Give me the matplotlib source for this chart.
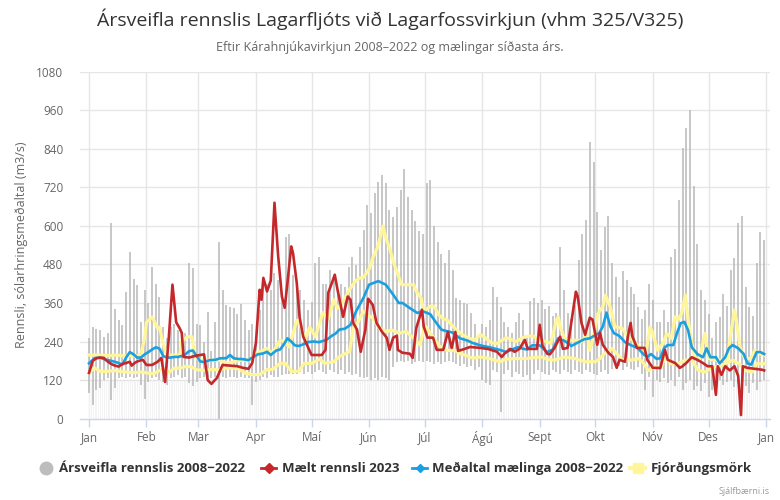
import matplotlib
matplotlib.use("Agg")
import matplotlib.pyplot as plt
from matplotlib.lines import Line2D
import matplotlib.font_manager as fm

# ---------------- data ----------------
month_labels = ['Jan', 'Feb', 'Mar', 'Apr', 'Maí', 'Jún', 'Júl', 'Ágú', 'Sept', 'Okt', 'Nóv', 'Des', 'Jan']
month_days = [0, 31, 59, 90, 120, 151, 181, 212, 243, 273, 304, 334, 365]
y_ticks = [0, 120, 240, 360, 480, 600, 720, 840, 960, 1080]

range_days = list(range(0, 365, 2))
range_max = [250, 285, 280, 275, 255, 265, 608, 340, 307, 290,
             394, 518, 436, 415, 300, 400, 360, 472, 420, 380,
             286, 250, 285, 296, 275, 270, 265, 483, 470, 296,
             290, 240, 331, 210, 300, 550, 400, 353, 348, 343,
             327, 358, 307, 275, 296, 255, 337, 420, 420, 399,
             452, 431, 368, 565, 576, 447, 426, 400, 368, 337,
             362, 483, 502, 420, 420, 462, 446, 400, 420, 410,
             472, 503, 478, 534, 586, 664, 640, 701, 737, 757,
             735, 650, 627, 659, 711, 777, 690, 648, 615, 585,
             575, 735, 742, 600, 549, 513, 483, 524, 462, 375,
             370, 360, 358, 330, 296, 254, 296, 286, 306, 410,
             378, 347, 300, 285, 265, 300, 330, 306, 254, 365,
             375, 360, 370, 340, 350, 320, 330, 534, 400, 330,
             310, 353, 493, 576, 617, 860, 800, 643, 524, 596,
             630, 483, 440, 379, 460, 430, 410, 389, 348, 310,
             338, 420, 368, 300, 300, 337, 300, 503, 529, 680,
             843, 904, 960, 723, 545, 400, 368, 327, 250, 300,
             317, 389, 350, 462, 500, 608, 630, 410, 348, 320,
             483, 580, 555]
range_min = [80, 42, 88, 95, 120, 125, 57, 95, 125, 130,
             125, 130, 125, 130, 104, 60, 115, 125, 130, 120,
             115, 104, 125, 130, 135, 125, 130, 110, 100, 115,
             125, 130, 130, 125, 130, 0, 130, 125, 130, 130,
             125, 130, 125, 125, 42, 115, 120, 130, 125, 135,
             130, 130, 135, 140, 140, 140, 140, 145, 140, 145,
             140, 145, 150, 145, 140, 150, 145, 140, 150, 140,
             145, 135, 140, 130, 125, 130, 120, 125, 120, 130,
             125, 120, 160, 175, 180, 175, 180, 170, 175, 180,
             175, 180, 175, 170, 175, 170, 175, 180, 175, 170,
             165, 170, 160, 165, 150, 160, 120, 110, 105, 150,
             145, 20, 140, 150, 130, 145, 140, 130, 135, 120,
             140, 150, 145, 140, 135, 150, 145, 140, 150, 145,
             140, 150, 145, 140, 150, 145, 140, 135, 145, 150,
             140, 155, 160, 165, 150, 160, 155, 150, 160, 140,
             88, 130, 67, 120, 115, 125, 110, 120, 100, 130,
             88, 110, 120, 90, 100, 85, 110, 67, 90, 115,
             120, 105, 115, 120, 98, 110, 120, 100, 80, 110,
             90, 115, 120]
low_band_top = 120

red_days = [0, 2, 4, 6, 8, 10, 12, 14, 16, 18, 20, 22, 23, 25, 27, 29, 31, 34, 37, 39,
            41, 43, 45, 47, 49, 50, 51, 54, 57, 60, 62, 64, 66, 69, 72, 76, 80, 83, 86, 88,
            90, 92, 93, 94, 96, 98, 100, 102, 104, 105.5, 107, 109, 110, 112, 113.5, 115.5, 118, 120, 123.5, 125.5,
            127.5, 129, 131, 132.5, 134, 137, 139.5, 141, 142.5, 144.5, 146.5, 149, 150.5, 153, 155, 158, 160.5, 162, 164, 166,
            166.5, 169, 173, 174.5, 176.5, 179.5, 180.5, 182.5, 185.5, 187.5, 191, 193.5, 195.5, 197.5, 199, 201, 205.5, 211, 215, 220,
            222.5, 224, 227, 229.5, 232, 235, 236.5, 241.5, 243, 244.5, 247, 248.5, 251, 254, 255.5, 258, 260, 262.5, 263.5, 265.5,
            267.5, 270, 271.5, 274, 275.5, 277, 280, 282.5, 284.5, 286, 289, 290.5, 292, 293, 295.5, 299.5, 301, 304, 306.5, 308,
            310.5, 312, 316, 318.5, 320, 322, 325, 328, 331, 333.5, 336, 338, 339, 341, 343, 345.5, 348, 350, 351.5, 352.5,
            355, 359, 363, 364]
red_vals = [142, 180, 188, 190, 189, 178, 170, 165, 162, 170, 173, 177, 165, 175, 180, 183, 167, 167, 177, 189,
            114, 250, 417, 300, 280, 267, 192, 190, 195, 198, 200, 120, 108, 127, 167, 165, 163, 158, 155, 173,
            236, 401, 370, 438, 396, 430, 672, 505, 380, 345, 423, 536, 515, 423, 317, 255, 223, 198, 198, 198,
            214, 392, 423, 448, 401, 317, 380, 370, 298, 277, 208, 277, 373, 354, 298, 270, 252, 214, 252, 258,
            214, 205, 202, 189, 283, 339, 286, 252, 252, 214, 214, 270, 220, 270, 211, 214, 223, 220, 217, 208,
            192, 202, 217, 208, 217, 245, 217, 217, 292, 227, 202, 200, 220, 255, 217, 220, 298, 395, 380, 298,
            261, 314, 308, 230, 267, 230, 205, 192, 158, 183, 177, 255, 298, 255, 220, 220, 183, 158, 158, 157,
            214, 183, 173, 158, 163, 173, 191, 183, 173, 163, 163, 74, 163, 136, 163, 150, 163, 133, 11, 163,
            158, 155, 152, 150]

blue_days = [0, 3, 6, 9, 12, 15, 18, 20, 22, 24, 26, 28, 30, 32, 34, 36, 38, 40, 42, 44,
             46, 48, 50, 52, 54, 56, 58, 60, 62, 65, 68, 71, 74, 76, 78, 80, 83, 86, 88, 91,
             94, 96, 98, 101, 103, 105, 107, 109, 111, 113, 115, 118, 121, 124, 128, 131, 133, 135, 138, 141,
             144, 148, 151, 156, 160, 164, 167, 169, 173, 177, 180, 184, 187, 190, 193, 196, 200, 204, 207, 211,
             216, 222, 225, 228, 231, 234, 236, 239, 243, 247, 250, 253, 255, 257, 260, 262, 264, 267, 270, 273,
             275, 277, 279, 281, 283, 286, 289, 292, 296, 299, 301, 303, 306, 308, 310, 312, 315, 317, 319, 321,
             323, 325, 328, 331, 333, 335, 338, 340, 343, 345, 347, 350, 353, 355, 357, 360, 362, 364]
blue_vals = [172, 188, 190, 183, 180, 175, 168, 190, 207, 200, 190, 190, 200, 207, 215, 222, 218, 195, 190, 190,
             192, 192, 195, 200, 210, 212, 195, 178, 176, 182, 183, 188, 188, 198, 188, 186, 185, 182, 190, 200,
             203, 208, 198, 212, 215, 230, 250, 240, 228, 226, 230, 238, 240, 238, 245, 258, 265, 277, 280, 292,
             334, 376, 417, 428, 417, 386, 360, 360, 344, 329, 334, 325, 300, 277, 272, 268, 250, 243, 235, 228,
             222, 213, 207, 215, 222, 218, 215, 228, 228, 207, 215, 250, 245, 240, 226, 232, 238, 247, 250, 260,
             266, 286, 330, 288, 266, 257, 238, 229, 219, 200, 192, 201, 186, 188, 219, 229, 229, 266, 297, 301,
             275, 222, 201, 191, 219, 191, 191, 172, 191, 219, 229, 219, 201, 172, 168, 207, 207, 201]

q_upper_days = [0, 6, 10, 15, 19, 23, 26, 28, 30, 31, 34, 35.5, 37, 38, 40, 42, 46, 49, 50, 53,
                55.5, 57, 60, 65, 70, 75, 81, 87, 89.5, 93, 96, 99, 103, 105, 108, 112, 114, 116.5, 119, 122,
                124, 126, 129, 132, 134, 136, 139, 141, 144, 146, 148, 151.5, 153, 155.5, 157.5, 158.5, 160, 162, 164, 166.5,
                168.5, 173, 175, 176.5, 179, 180.5, 184, 186, 188.5, 191, 193, 195.5, 198, 201.5, 205, 208, 211, 214, 217, 220,
                225, 230, 235, 239, 243, 247, 249, 252, 253, 254, 256, 258, 263.5, 265.5, 268.5, 270, 271.5, 274.5, 277, 278.5,
                281, 283.5, 287.5, 290, 293, 296, 298, 300, 302.5, 304, 306.5, 309.5, 311.5, 314, 316, 317.5, 319.5, 321.5, 322, 323,
                325, 326.5, 329, 332, 334, 337, 341, 344, 345.5, 348, 349, 351, 353.5, 357, 359, 361, 364]
q_upper_vals = [198, 198, 196, 198, 195, 196, 195, 200, 250, 300, 316, 300, 280, 285, 233, 198, 198, 198, 240, 255,
                255, 192, 182, 182, 182, 172, 182, 182, 203, 210, 218, 203, 244, 240, 223, 306, 290, 244, 285, 255,
                290, 330, 310, 370, 344, 355, 386, 407, 430, 438, 440, 470, 501, 532, 574, 600, 563, 532, 490, 449,
                417, 417, 417, 396, 376, 334, 350, 350, 324, 310, 308, 292, 277, 261, 250, 244, 262, 250, 236, 234,
                252, 240, 255, 258, 244, 239, 234, 307, 317, 286, 255, 244, 244, 239, 265, 213, 244, 328, 348, 384,
                348, 286, 281, 260, 244, 228, 213, 192, 286, 265, 213, 234, 265, 250, 317, 307, 327, 384, 358, 307,
                234, 192, 182, 265, 187, 182, 182, 182, 244, 338, 307, 223, 187, 187, 213, 203, 198]

q_lower_days = [0, 3, 6, 10, 14, 17, 20, 24, 29, 31, 35, 38, 41, 43.5, 46, 49, 52, 55, 58, 62,
                66, 70, 74, 78, 81, 84, 88, 92, 96, 99, 103, 106, 109, 113, 116, 120, 124.5, 127, 132, 135,
                140.5, 142.5, 145, 148, 151, 153, 156.5, 160.5, 163, 167.5, 171, 175, 178.5, 181, 183, 186, 189, 193, 197, 200,
                204, 207, 211, 216, 221.5, 225, 230, 236, 240, 244, 247, 251, 256.5, 262, 267.5, 273, 275.5, 278, 282, 284.5,
                287.5, 292.5, 296, 298.5, 301.5, 304, 305.5, 308.5, 310.5, 314, 317.5, 321.5, 325, 328.5, 332.5, 336, 339.5, 343, 347, 350.5,
                354, 357.5, 360, 364]
q_lower_vals = [142, 158, 147, 147, 150, 147, 145, 143, 145, 142, 140, 150, 155, 145, 157, 157, 162, 162, 152, 150,
                153, 152, 157, 157, 155, 142, 137, 137, 153, 153, 172, 172, 147, 147, 172, 172, 185, 172, 177, 193,
                209, 282, 300, 334, 320, 313, 282, 271, 276, 266, 271, 250, 229, 290, 275, 250, 225, 212, 213, 203,
                195, 188, 192, 187, 177, 185, 187, 187, 190, 192, 185, 182, 192, 187, 177, 177, 187, 203, 218, 203,
                182, 182, 187, 177, 150, 156, 161, 161, 192, 171, 171, 182, 182, 150, 145, 161, 161, 171, 182, 171,
                150, 145, 171, 171]

legend_labels = ['Ársveifla rennslis 2008−2022', 'Mælt rennsli 2023',
                 'Meðaltal mælinga 2008−2022', 'Fjórðungsmörk']

# ---------------- style ----------------
avail = {f.name for f in fm.fontManager.ttflist}
base_font = 'Liberation Sans Narrow' if 'Liberation Sans Narrow' in avail else 'Open Sans'
plt.rcParams['font.family'] = [base_font, 'DejaVu Sans']

c_range = '#b8b8b8'
c_red = '#c4282b'
c_blue = '#1a9fe0'
c_yellow = '#fff59a'
c_grid = '#e6e6e6'
c_axis = '#ccd6eb'
c_label = '#666666'

W, H = 780, 500
fig = plt.figure(figsize=(W / 100, H / 100), dpi=100)
px2x = 1 / W
px2y = 1 / H
ax_left, ax_right, ax_top, ax_bottom = 80, 770, 71.7, 418.6
ax = fig.add_axes([ax_left * px2x, 1 - ax_bottom * px2y,
                   (ax_right - ax_left) * px2x, (ax_bottom - ax_top) * px2y])

day_scale = (766 - 89) / 365.0
ax.set_xlim((ax_left - 89) / day_scale, (ax_right - 89) / day_scale)
ax.set_ylim(0, 1080)

# grid
for yv in y_ticks[1:]:
    ax.axhline(yv, color=c_grid, lw=1, zorder=0)
for d in month_days:
    ax.axvline(d, color=c_grid, lw=1, zorder=0)

# faint bars below the band line
ax.vlines(list(range(0, 365)), 0, low_band_top, color='#f3f3f3', lw=0.7, zorder=1)
ax.axhline(low_band_top, color='#dcdcdc', lw=0.8, ls=(0, (1, 2)), zorder=1)

# range bars
ax.vlines(range_days, range_min, range_max, color=c_range, lw=1.1, zorder=2)

# quartile lines
ax.plot(q_upper_days, q_upper_vals, color=c_yellow, lw=2.3, zorder=3, solid_joinstyle='round')
ax.plot(q_lower_days, q_lower_vals, color=c_yellow, lw=2.3, zorder=3, solid_joinstyle='round')
# mean
ax.plot(blue_days, blue_vals, color=c_blue, lw=1.9, zorder=4, solid_joinstyle='round')
# measured
ax.plot(red_days, red_vals, color=c_red, lw=1.9, zorder=5, solid_joinstyle='round')

# axes styling
for s in ['top', 'right', 'left']:
    ax.spines[s].set_visible(False)
ax.spines['bottom'].set_color(c_axis)
ax.spines['bottom'].set_linewidth(1)
ax.set_yticks(y_ticks)
ax.set_yticklabels([str(v) for v in y_ticks])
ax.tick_params(axis='y', length=0, pad=12, labelsize=8.5, labelcolor=c_label)
ax.set_xticks(month_days)
ax.set_xticklabels(month_labels)
ax.tick_params(axis='x', length=6, width=1, color=c_axis, pad=3, labelsize=8.5, labelcolor=c_label)
ax.set_facecolor('white')

fig.text(22 * px2x, 1 - 245 * px2y, 'Rennsli, sólarhringsmeðaltal (m3/s)', rotation=90,
         ha='center', va='center', fontsize=9, color=c_label)

fig.text(390 * px2x, 1 - 19 * px2y, 'Ársveifla rennslis Lagarfljóts við Lagarfossvirkjun (vhm 325/V325)',
         ha='center', va='center', fontsize=14, color='#333333')
fig.text(390 * px2x, 1 - 47 * px2y, 'Eftir Kárahnjúkavirkjun 2008–2022 og mælingar síðasta árs.',
         ha='center', va='center', fontsize=9, color=c_label)

# legend (manual)
ly = 1 - 468 * px2y
fig.add_artist(Line2D([46 * px2x], [ly], marker='o', ms=9, color='#bdbdbd', ls='none',
                      transform=fig.transFigure))
fig.text(59 * px2x, ly, legend_labels[0], ha='left', va='center', fontsize=9.5,
         fontweight='bold', color='#333333')
fig.add_artist(Line2D([261 * px2x, 276 * px2x], [ly, ly], color=c_red, lw=2, marker=None,
                      transform=fig.transFigure))
fig.add_artist(Line2D([268.5 * px2x], [ly], marker='D', ms=5, color=c_red, ls='none',
                      transform=fig.transFigure))
fig.text(282 * px2x, ly, legend_labels[1], ha='left', va='center', fontsize=9.5,
         fontweight='bold', color='#333333')
fig.add_artist(Line2D([412 * px2x, 427 * px2x], [ly, ly], color=c_blue, lw=2,
                      transform=fig.transFigure))
fig.add_artist(Line2D([419.5 * px2x], [ly], marker='D', ms=4, color=c_blue, ls='none',
                      transform=fig.transFigure))
fig.text(432 * px2x, ly, legend_labels[2], ha='left', va='center', fontsize=9.5,
         fontweight='bold', color='#333333')
fig.add_artist(Line2D([630 * px2x, 645 * px2x], [ly, ly], color=c_yellow, lw=3,
                      transform=fig.transFigure))
fig.add_artist(Line2D([637.5 * px2x], [ly], marker='s', ms=7, color=c_yellow, ls='none',
                      transform=fig.transFigure))
fig.text(651 * px2x, ly, legend_labels[3], ha='left', va='center', fontsize=9.5,
         fontweight='bold', color='#333333')

fig.text(770 * px2x, 1 - 491 * px2y, 'Sjálfbærni.is', ha='right', va='center',
         fontsize=6.5, color='#999999')

fig.savefig('out.png', dpi=100, facecolor='white')
